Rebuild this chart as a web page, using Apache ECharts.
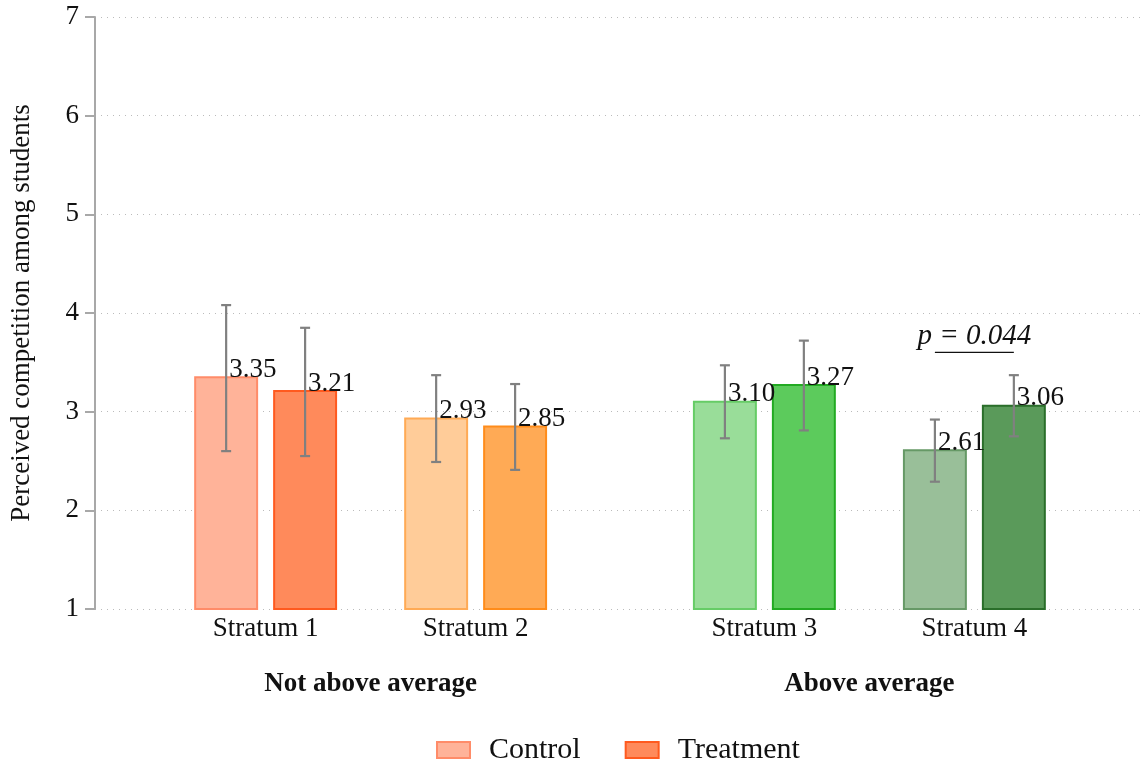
<!DOCTYPE html>
<html lang="en">
<head>
  <meta charset="UTF-8">
  <title>Perceived competition among students</title>
  <script src="https://cdn.jsdelivr.net/npm/echarts@6/dist/echarts.min.js"></script>
  <style>
    html, body { margin: 0; padding: 0; background: #fff; }
    #chart { width: 1146px; height: 767px; }
  </style>
</head>
<body>
  <div id="chart"></div>
<script>
  // data
  var strata = ['Stratum 1', 'Stratum 2', 'Stratum 3', 'Stratum 4']
  var groups = ['Not above average', 'Above average']
  var controlMean = [3.35, 2.93, 3.10, 2.61]
  var controlLow = [2.60, 2.49, 2.73, 2.29]
  var controlHigh = [4.08, 3.37, 3.47, 2.92]
  var treatMean = [3.21, 2.85, 3.27, 3.06]
  var treatLow = [2.55, 2.41, 2.81, 2.75]
  var treatHigh = [3.85, 3.28, 3.72, 3.37]
  var yTicks = [1, 2, 3, 4, 5, 6, 7]
  var pText = 'p = 0.044'
  var pStratum = 3
  var pLevel = 3.6

  // layout (x axis units)
  var firstPos = 0.8125
  var groupGap = 0.375
  var barOffset = 0.188
  var barWidth = 0.295
  function stratumPos(i) { return firstPos + i + (i >= 2 ? groupGap : 0) }
  var positions = strata.map(function (s, i) { return stratumPos(i) })

  // styles
  var controlFill = ['#ffb399', '#ffcc99', '#99dd99', '#99bf99']
  var controlLine = ['#ff8c69', '#ffaa55', '#66cc66', '#669966']
  var treatFill = ['#ff8a5b', '#ffaa55', '#5ccb5c', '#5a9a5a']
  var treatLine = ['#ff5a1f', '#ff8c1a', '#22aa22', '#2a6e2a']
  var serif = '"Liberation Serif", "DejaVu Serif", serif'
  var errColor = '#808080'

  var chart = echarts.init(document.getElementById('chart'))

  function barRenderer(sign, fills, lines) {
    return function (params, api) {
      var i = params.dataIndex
      var x = api.value(0) + sign * barOffset
      var mean = api.value(1)
      var low = api.value(2)
      var high = api.value(3)
      var w = api.size([barWidth, 0])[0]
      var base = api.coord([x, yTicks[0]])
      var top = api.coord([x, mean])
      var pLow = api.coord([x, low])
      var pHigh = api.coord([x, high])
      var cap = 5
      return {
        type: 'group',
        children: [
          {
            type: 'rect',
            shape: { x: top[0] - w / 2, y: top[1], width: w, height: base[1] - top[1] },
            style: { fill: fills[i], stroke: lines[i], lineWidth: 2 }
          },
          {
            type: 'text',
            z2: 5,
            style: {
              text: mean.toFixed(2), x: top[0] + 3, y: top[1] + 6,
              align: 'left', verticalAlign: 'bottom',
              fontSize: 27, fontFamily: serif, fill: '#111'
            }
          },
          {
            type: 'polyline', z2: 10,
            shape: { points: [[pLow[0], pLow[1]], [pHigh[0], pHigh[1]]] },
            style: { stroke: errColor, lineWidth: 2.2 }
          },
          {
            type: 'line', z2: 10,
            shape: { x1: pHigh[0] - cap, y1: pHigh[1], x2: pHigh[0] + cap, y2: pHigh[1] },
            style: { stroke: errColor, lineWidth: 2.2 }
          },
          {
            type: 'line', z2: 10,
            shape: { x1: pLow[0] - cap, y1: pLow[1], x2: pLow[0] + cap, y2: pLow[1] },
            style: { stroke: errColor, lineWidth: 2.2 }
          }
        ]
      }
    }
  }

  var controlData = strata.map(function (s, i) {
    return [positions[i], controlMean[i], controlLow[i], controlHigh[i]]
  })
  var treatData = strata.map(function (s, i) {
    return [positions[i], treatMean[i], treatLow[i], treatHigh[i]]
  })
  var groupData = groups.map(function (g, k) {
    return [(stratumPos(2 * k) + stratumPos(2 * k + 1)) / 2, yTicks[0]]
  })

  chart.setOption({
    animation: false,
    backgroundColor: '#fff',
    grid: { left: 95, right: 1, top: 17, bottom: 158 },
    legend: {
      top: 730,
      left: 431,
      itemWidth: 33,
      itemHeight: 16,
      itemGap: 44,
      icon: 'rect',
      textStyle: { fontSize: 30, fontFamily: serif, color: '#111', padding: [0, 0, 0, 14] },
      data: [
        { name: 'Control', itemStyle: { color: controlFill[0], borderColor: controlLine[0], borderWidth: 2 } },
        { name: 'Treatment', itemStyle: { color: treatFill[0], borderColor: treatLine[0], borderWidth: 2 } }
      ]
    },
    xAxis: {
      type: 'value',
      min: 0,
      max: 5,
      axisLine: { show: false },
      axisTick: { show: false },
      splitLine: { show: false },
      axisLabel: {
        customValues: positions,
        margin: 6,
        fontSize: 27,
        fontFamily: serif,
        color: '#111',
        formatter: function (v) {
          var best = 0
          positions.forEach(function (p, i) {
            if (Math.abs(p - v) < Math.abs(positions[best] - v)) best = i
          })
          return strata[best]
        }
      }
    },
    yAxis: {
      type: 'value',
      min: 1,
      max: 7,
      interval: 1,
      name: 'Perceived competition among students',
      nameLocation: 'middle',
      nameGap: 60,
      nameTextStyle: { fontSize: 27, fontFamily: serif, color: '#111' },
      axisLine: { show: true, lineStyle: { color: '#a8a8a8', width: 2 } },
      axisTick: { show: true, length: 10, lineStyle: { color: '#a8a8a8', width: 2 } },
      axisLabel: { fontSize: 27, fontFamily: serif, color: '#111', margin: 16 },
      splitLine: { show: true, lineStyle: { color: '#bbbbbb', type: [1, 5], width: 1.2 } }
    },
    series: [
      {
        name: 'Control',
        type: 'custom',
        itemStyle: { color: controlFill[0], borderColor: controlLine[0] },
        renderItem: barRenderer(-1, controlFill, controlLine),
        encode: { x: 0, y: [1, 2, 3] },
        data: controlData
      },
      {
        name: 'Treatment',
        type: 'custom',
        itemStyle: { color: treatFill[0], borderColor: treatLine[0] },
        renderItem: barRenderer(1, treatFill, treatLine),
        encode: { x: 0, y: [1, 2, 3] },
        data: treatData
      },
      {
        name: 'groups',
        type: 'custom',
        silent: true,
        renderItem: function (params, api) {
          var p = api.coord([api.value(0), api.value(1)])
          return {
            type: 'text',
            style: {
              text: groups[params.dataIndex], x: p[0], y: p[1] + 75,
              align: 'center', verticalAlign: 'middle',
              fontSize: 27, fontWeight: 'bold', fontFamily: serif, fill: '#111'
            }
          }
        },
        data: groupData
      },
      {
        name: 'pvalue',
        type: 'custom',
        silent: true,
        renderItem: function (params, api) {
          var a = api.coord([api.value(0), api.value(2)])
          var b = api.coord([api.value(1), api.value(2)])
          return {
            type: 'group',
            children: [
              {
                type: 'line',
                shape: { x1: a[0], y1: a[1], x2: b[0], y2: b[1] },
                style: { stroke: '#111', lineWidth: 1.3 }
              },
              {
                type: 'text',
                style: {
                  text: pText, x: (a[0] + b[0]) / 2, y: a[1] - 2,
                  align: 'center', verticalAlign: 'bottom',
                  fontSize: 29, fontStyle: 'italic', fontFamily: serif, fill: '#111'
                }
              }
            ]
          }
        },
        data: [[positions[pStratum] - barOffset, positions[pStratum] + barOffset, pLevel]]
      }
    ]
  })
</script>
</body>
</html>
